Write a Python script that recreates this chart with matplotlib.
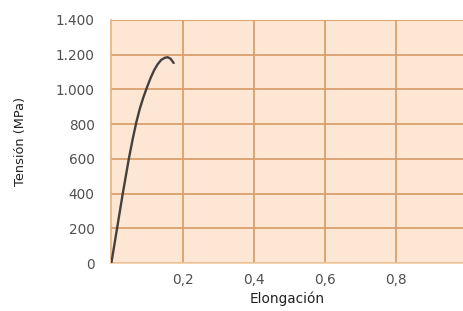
import matplotlib
matplotlib.use("Agg")
import matplotlib.pyplot as plt

elong = [0.0, 0.016, 0.032, 0.049, 0.060, 0.070, 0.080, 0.090, 0.100, 0.110, 0.120, 0.130, 0.140, 0.150, 0.158, 0.166, 0.175]
stress = [0, 200, 400, 600, 715, 810, 890, 955, 1012, 1065, 1110, 1145, 1170, 1182, 1185, 1177, 1152]
xticks = [0.2, 0.4, 0.6, 0.8]
xticklabels = ["0,2", "0,4", "0,6", "0,8"]
yticks = [0, 200, 400, 600, 800, 1000, 1200, 1400]
yticklabels = ["0", "200", "400", "600", "800", "1.000", "1.200", "1.400"]

plt.rcParams['font.family'] = ['DejaVu Sans']

fig = plt.figure(figsize=(4.64, 3.11), dpi=100)
ax = fig.add_axes([0.240, 0.154, 0.760, 0.782])
ax.set_facecolor('#fde7d4')
ax.set_xlim(0, 0.99)
ax.set_ylim(0, 1400)
ax.set_xticks(xticks)
ax.set_xticklabels(xticklabels)
ax.set_yticks(yticks)
ax.set_yticklabels(yticklabels)
ax.grid(True, color='#d9a06c', linewidth=1.3)
ax.set_axisbelow(True)
ax.tick_params(length=0, labelsize=9.8, labelcolor='#505050')
ax.tick_params(axis='y', pad=12)
ax.tick_params(axis='x', pad=7)
for s in ['top', 'right']:
    ax.spines[s].set_visible(False)
ax.spines['left'].set_color('#e8b080')
ax.spines['bottom'].set_color('#f0c8a0')
ax.spines['left'].set_linewidth(1.2)
ax.spines['bottom'].set_linewidth(1.2)
ax.plot(elong, stress, color='#444040', linewidth=1.7, zorder=3,
        solid_joinstyle='round', solid_capstyle='round')
ax.set_xlabel("Elongación", fontsize=9.8, color='#222222')
ax.set_ylabel("Tensión (MPa)", fontsize=9.3, color='#222222')
ax.xaxis.set_label_coords(0.5, -0.115)
ax.yaxis.set_label_coords(-0.24, 0.5)
fig.savefig("out.png", dpi=100)
